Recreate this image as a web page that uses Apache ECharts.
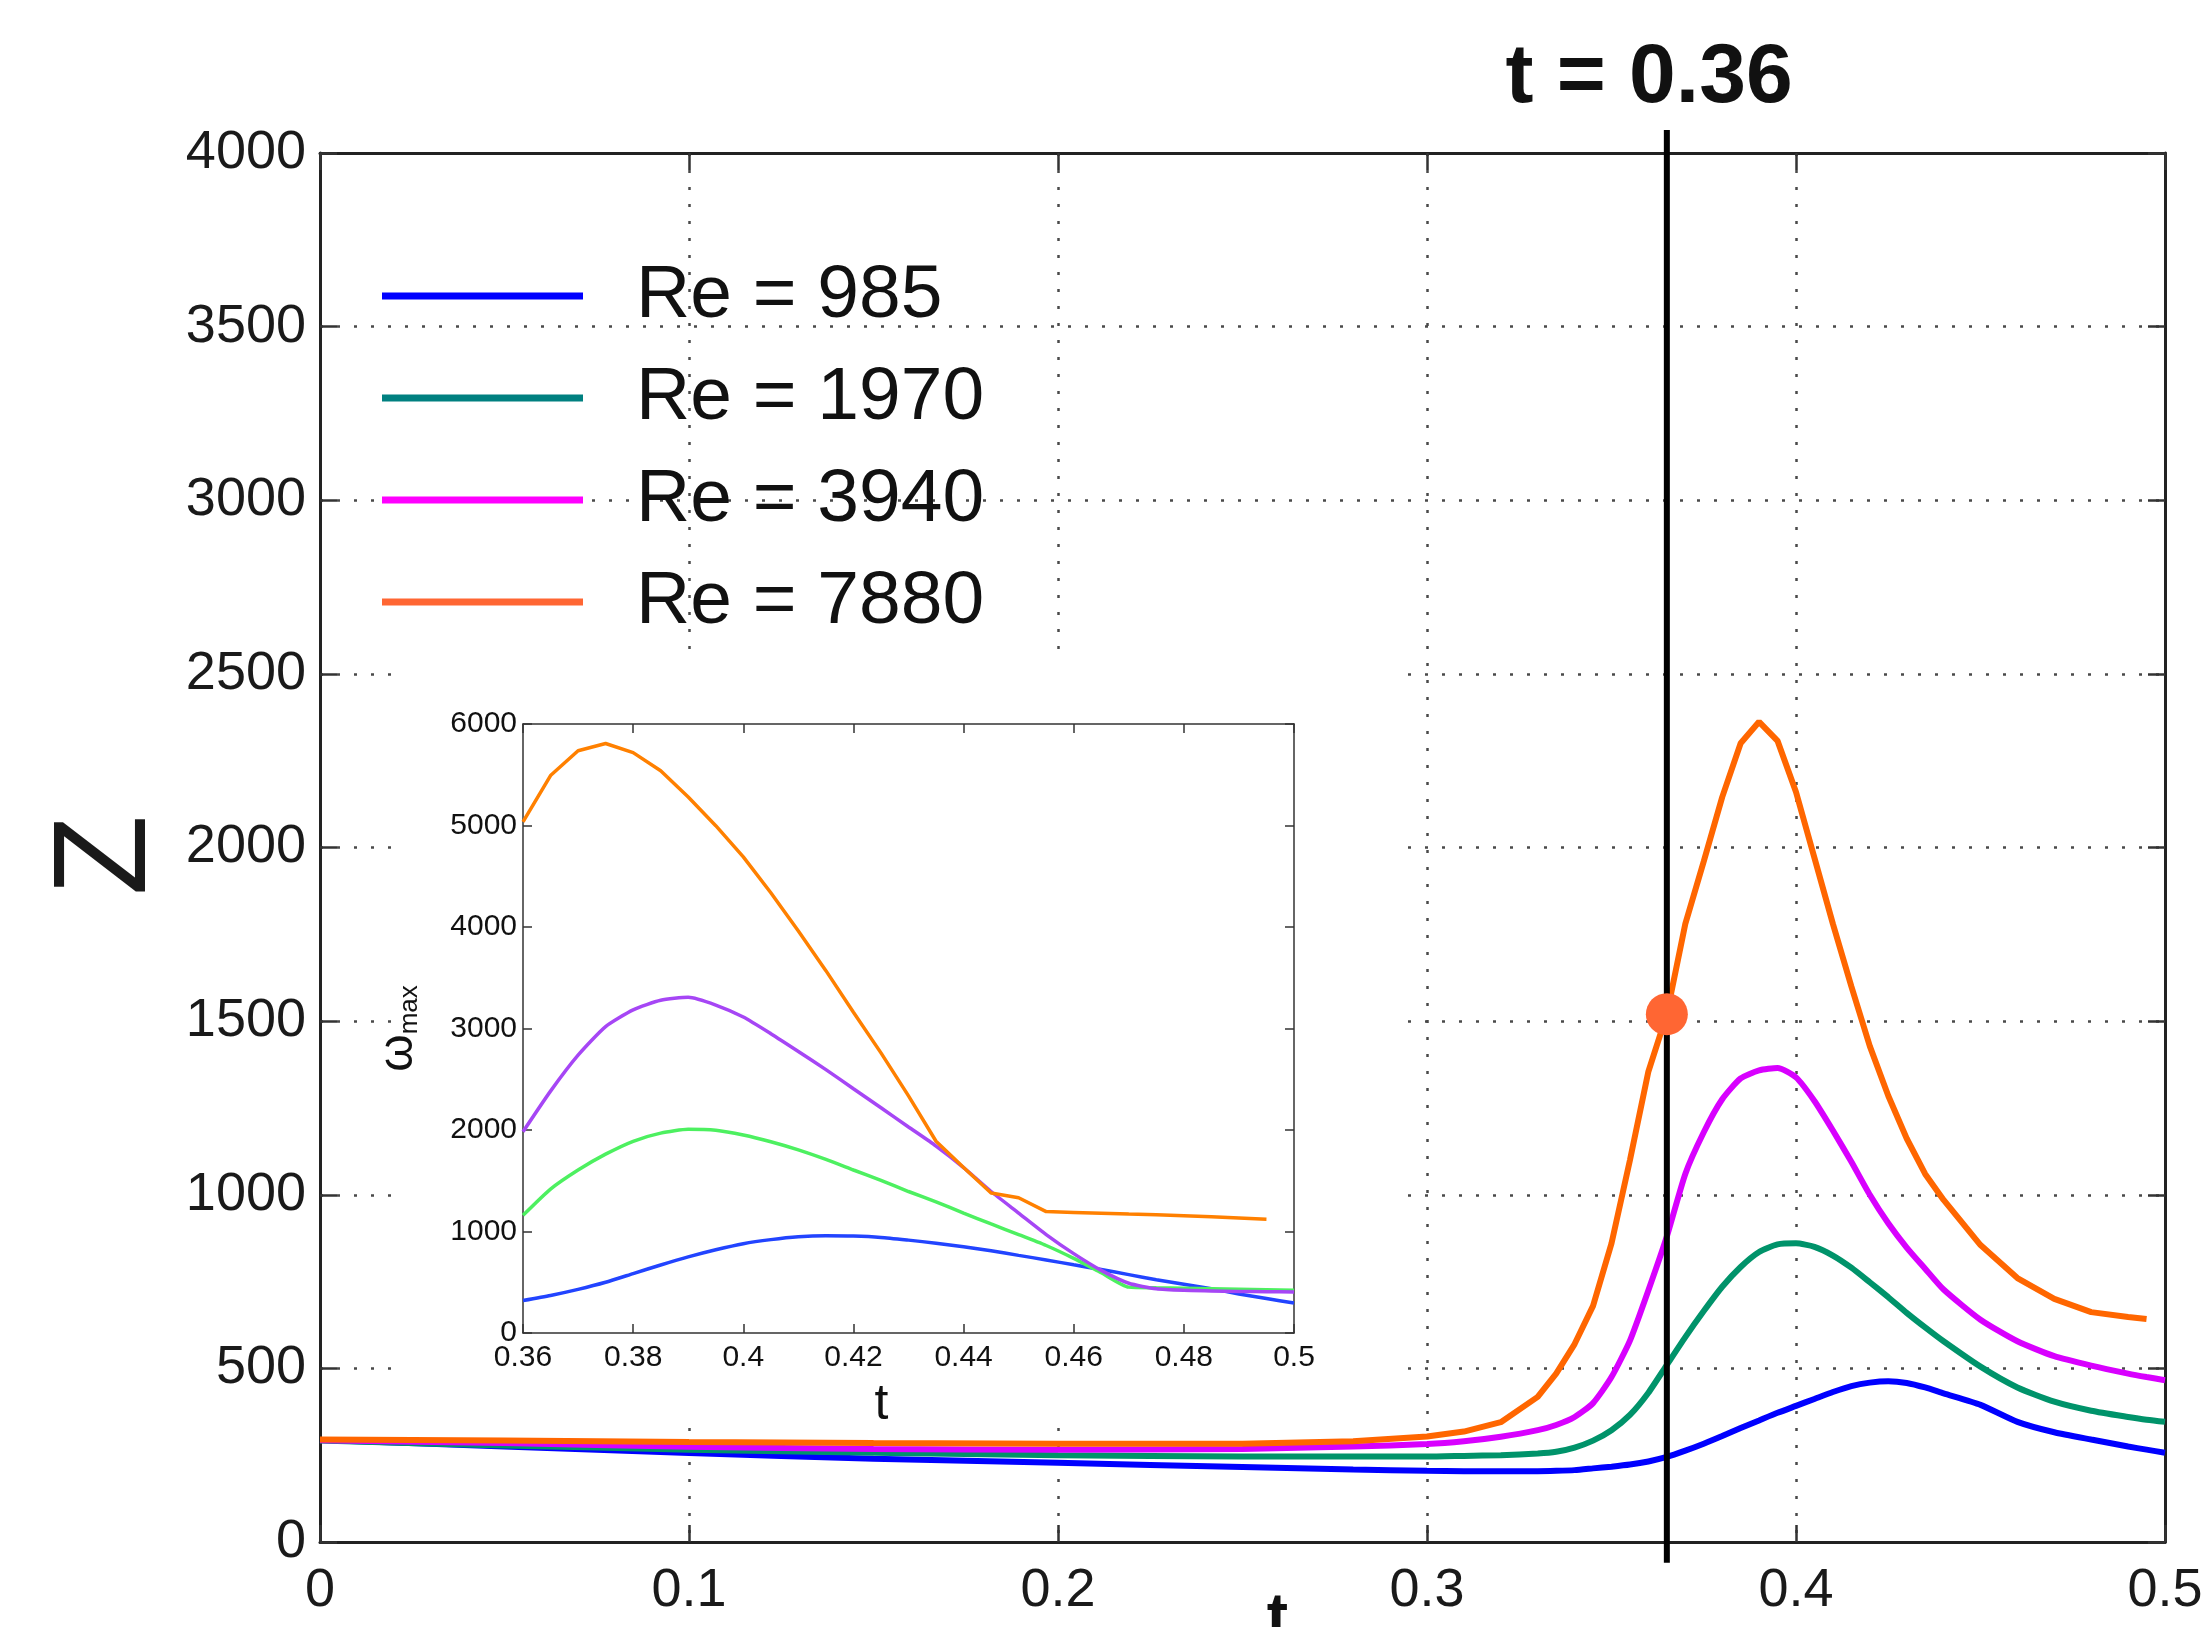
<!DOCTYPE html>
<html>
<head>
<meta charset="utf-8">
<script src="https://cdn.jsdelivr.net/npm/echarts@6/dist/echarts.min.js"></script>
<style>
html,body{margin:0;padding:0;background:#fff;}
#chart{width:2208px;height:1627px;}
</style>
</head>
<body>
<div id="chart"></div>
<script>
// ---------------- DATA ----------------
const seriesNames = ['Re = 985', 'Re = 1970', 'Re = 3940', 'Re = 7880'];

// main plot: Z(t)
const tMain = [0, 0.05, 0.1, 0.15, 0.2, 0.25, 0.28, 0.3, 0.31, 0.32, 0.33, 0.335, 0.34, 0.345, 0.35,
  0.355, 0.36, 0.365, 0.37, 0.375, 0.38, 0.385, 0.39, 0.395, 0.4, 0.405, 0.41, 0.415, 0.42,
  0.425, 0.43, 0.435, 0.44, 0.45, 0.46, 0.47, 0.48, 0.49, 0.495, 0.5];
const zRe985 = [294, 275, 256, 240, 228, 216, 209, 205, 204, 204, 204, 205, 207, 212, 217,
  223, 232, 245, 263, 283, 305, 328, 350, 372, 392, 412, 432, 449, 459,
  463, 458, 445, 428, 395, 346, 316, 295, 275, 266, 257];
const zRe1970 = [292, 278, 266, 257, 250, 246, 246, 246, 248, 250, 255, 260, 272, 292, 322,
  366, 430, 510, 590, 665, 735, 792, 835, 857, 860, 850, 825, 790, 748,
  705, 660, 618, 578, 505, 445, 404, 378, 360, 352, 346];
const zRe3940 = [293, 285, 274, 268, 266, 268, 275, 282, 290, 303, 322, 337, 360, 400, 475,
  580, 725, 880, 1060, 1180, 1275, 1335, 1358, 1365, 1338, 1270, 1185, 1095, 1000,
  918, 848, 787, 727, 640, 578, 535, 508, 485, 475, 466];
const zRe7880 = [295, 292, 288, 285, 283, 283, 290, 304, 318, 345, 418, 485, 570, 680, 860,
  1100, 1355, 1520, 1780, 1960, 2145, 2300, 2362, 2307, 2160, 1970, 1780, 1600, 1428,
  1285, 1162, 1060, 985, 855, 760, 700, 662, 648, 642, null];

// marker at t = 0.36 (drawn at t = 0.365)
const markerT = 0.365;
const markerZ = 1520;
const markerSpan = [-60, 4066];
const markerTitle = 't = 0.36';

// inset: omega_max(t)
const tInset = [0.36, 0.365, 0.37, 0.375, 0.38, 0.385, 0.39, 0.395, 0.4, 0.405, 0.41, 0.415, 0.42,
  0.425, 0.43, 0.435, 0.44, 0.445, 0.45, 0.455, 0.46, 0.465, 0.47, 0.475, 0.48, 0.485, 0.49, 0.495, 0.5];
const wRe985 = [320, 370, 430, 500, 585, 670, 750, 820, 880, 920, 948, 958, 955,
  942, 915, 885, 850, 810, 765, 720, 672, 625, 575, 525, 480, 435, 385, 340, 295];
const wRe1970 = [1159, 1418, 1606, 1762, 1889, 1969, 2007, 1997, 1950, 1884, 1804, 1710, 1606,
  1503, 1394, 1291, 1182, 1074, 970, 862, 735, 593, 452, 445, 440, 435, 430, 425, 420];
const wRe3940 = [1983, 2383, 2737, 3019, 3184, 3278, 3307, 3231, 3113, 2949, 2774, 2595, 2407,
  2219, 2030, 1842, 1630, 1394, 1182, 970, 782, 617, 490, 435, 420, 415, 410, 407, 405];
const wRe7880 = [5035, 5492, 5737, 5808, 5718, 5539, 5280, 4998, 4691, 4338, 3961, 3570, 3161,
  2760, 2336, 1889, 1630, 1380, 1333, 1196, 1188, 1180, 1172, 1165, 1155, 1145, 1133, 1121, null];

// tick settings
const mainX = {min: 0, max: 0.5, interval: 0.1};
const mainY = {min: 0, max: 4000, interval: 500};
const insetX = {min: 0.36, max: 0.5, interval: 0.02};
const insetY = {min: 0, max: 6000, interval: 1000};

// ---------------- STYLE ----------------
const mainColors = ['#0000FF', '#00936A', '#D800FF', '#FF6600'];
const legendColors = ['#0000FF', '#008080', '#FF00FF', '#FF6633'];
const insetColors = ['#2244FF', '#4DF060', '#A646F5', '#FF8000'];
const FONT = 'Liberation Sans, Arial, sans-serif';

function pairs(xs, ys) { return xs.map((x, i) => [x, ys[i]]); }
function fmt(v) { return String(Math.round(v * 100) / 100); }
function fmtInt(v) { return String(Math.round(v)); }

const mainData = [zRe985, zRe1970, zRe3940, zRe7880];
const insetData = [wRe985, wRe1970, wRe3940, wRe7880];

const dotted = () => ({show: true, showMinLine: false, showMaxLine: false,
  lineStyle: {type: [3, 14], width: 2.5, color: '#4a4a4a'}});
const boxLine = () => ({show: true, onZero: false, lineStyle: {color: '#222', width: 3}});
const insetLine = () => ({show: true, onZero: false, lineStyle: {color: '#333', width: 1.5}});
const mainTick = () => ({show: true, inside: true, length: 17, lineStyle: {color: '#333', width: 2.5}});
const insetTick = () => ({show: true, inside: true, length: 9, lineStyle: {color: '#333', width: 1.5}});

const series = [];
mainData.forEach((d, i) => {
  series.push({
    name: seriesNames[i], type: 'line', xAxisIndex: 0, yAxisIndex: 0,
    data: pairs(tMain, d), symbol: 'none', smooth: i === 3 ? false : 0.2,
    lineStyle: {color: mainColors[i], width: 6},
    itemStyle: {color: legendColors[i]}, z: 3, silent: true
  });
});
series.push({
  name: 'marker', type: 'line', xAxisIndex: 0, yAxisIndex: 0, clip: false,
  data: markerSpan.map(v => [markerT, v]), symbol: 'none',
  lineStyle: {color: '#000', width: 6}, z: 6, silent: true
});
series.push({
  name: 'dot', type: 'scatter', xAxisIndex: 0, yAxisIndex: 0,
  data: [[markerT, markerZ]], symbolSize: 42, itemStyle: {color: '#FF6633', opacity: 1}, z: 7, silent: true
});
insetData.forEach((d, i) => {
  series.push({
    name: 'inset' + i, type: 'line', xAxisIndex: 2, yAxisIndex: 2,
    data: pairs(tInset, d), symbol: 'none', smooth: i === 3 ? false : 0.2,
    lineStyle: {color: insetColors[i], width: 3.5}, z: 12, silent: true
  });
});

const option = {
  backgroundColor: '#fff',
  animation: false,
  title: {
    text: markerTitle, left: 1644, top: 32, textAlign: 'center',
    textStyle: {fontFamily: FONT, fontWeight: 'bold', fontSize: 84, color: '#111'}
  },
  legend: {
    data: seriesNames, orient: 'vertical', left: 377, top: 253,
    icon: 'rect', itemWidth: 201, itemHeight: 7, itemGap: 26,
    formatter: n => '{t|' + n + '}',
    textStyle: {fontFamily: FONT, fontSize: 75, color: '#111', lineHeight: 76,
      rich: {t: {fontFamily: FONT, fontSize: 75, color: '#111', padding: [0, 0, 0, 48], lineHeight: 76}}},
    selectedMode: false
  },
  graphic: [{
    type: 'rect', shape: {x: 398, y: 662, width: 1000, height: 763},
    style: {fill: '#fff'}, z: 1, silent: true
  }],
  grid: [
    {left: 320, top: 153, width: 1845, height: 1389, containLabel: false, outerBoundsMode: 'none'},
    {left: 523, top: 724, width: 771, height: 609, z: 10, containLabel: false, outerBoundsMode: 'none'}
  ],
  xAxis: [
    {gridIndex: 0, type: 'value', position: 'bottom', ...mainX,
      axisLine: boxLine(), axisTick: mainTick(),
      axisLabel: {fontFamily: FONT, fontSize: 54, color: '#1a1a1a', margin: 22, formatter: fmt},
      splitLine: dotted(),
      name: 't', nameLocation: 'middle', nameGap: 46, nameMoveOverlap: false,
      nameTextStyle: {fontFamily: FONT, fontSize: 64, fontWeight: 'bold', color: '#111', padding: [0, 0, 0, 70]}},
    {gridIndex: 0, type: 'value', position: 'top', ...mainX,
      axisLine: boxLine(), axisTick: mainTick(),
      axisLabel: {show: false}, splitLine: {show: false}},
    {gridIndex: 1, type: 'value', position: 'bottom', ...insetX, z: 11,
      axisLine: insetLine(), axisTick: insetTick(),
      axisLabel: {fontFamily: FONT, fontSize: 30, color: '#111', margin: 10, formatter: fmt},
      splitLine: {show: false},
      name: 't', nameLocation: 'middle', nameGap: 47,
      nameTextStyle: {fontFamily: FONT, fontSize: 50, color: '#111', padding: [0, 54, 0, 0]}},
    {gridIndex: 1, type: 'value', position: 'top', ...insetX, z: 11,
      axisLine: insetLine(), axisTick: insetTick(),
      axisLabel: {show: false}, splitLine: {show: false}}
  ],
  yAxis: [
    {gridIndex: 0, type: 'value', position: 'left', ...mainY,
      axisLine: boxLine(), axisTick: mainTick(),
      axisLabel: {fontFamily: FONT, fontSize: 54, color: '#1a1a1a', margin: 14, formatter: fmtInt, padding: [10, 0, 0, 0]},
      splitLine: dotted(),
      name: 'Z', nameLocation: 'middle', nameGap: 145, nameRotate: 90,
      nameTextStyle: {fontFamily: FONT, fontSize: 132, color: '#1a1a1a', padding: [0, 16, 0, 0]}},
    {gridIndex: 0, type: 'value', position: 'right', ...mainY,
      axisLine: boxLine(), axisTick: mainTick(),
      axisLabel: {show: false}, splitLine: {show: false}},
    {gridIndex: 1, type: 'value', position: 'left', ...insetY, z: 11,
      axisLine: insetLine(), axisTick: insetTick(),
      axisLabel: {fontFamily: FONT, fontSize: 30, color: '#111', margin: 6, formatter: fmtInt},
      splitLine: {show: false},
      name: '{w|ω}{m|max}', nameLocation: 'middle', nameGap: 100, nameRotate: 90,
      nameTextStyle: {fontFamily: FONT, color: '#111',
        rich: {
          w: {fontFamily: FONT, fontSize: 48, color: '#111', lineHeight: 48, verticalAlign: 'top'},
          m: {fontFamily: FONT, fontSize: 26, color: '#111', lineHeight: 26, verticalAlign: 'bottom', padding: [34, 0, 0, 0]}
        }}},
    {gridIndex: 1, type: 'value', position: 'right', ...insetY, z: 11,
      axisLine: insetLine(), axisTick: insetTick(),
      axisLabel: {show: false}, splitLine: {show: false}}
  ],
  series: series
};

const chart = echarts.init(document.getElementById('chart'), null, {renderer: 'canvas'});
chart.setOption(option);
</script>
</body>
</html>
